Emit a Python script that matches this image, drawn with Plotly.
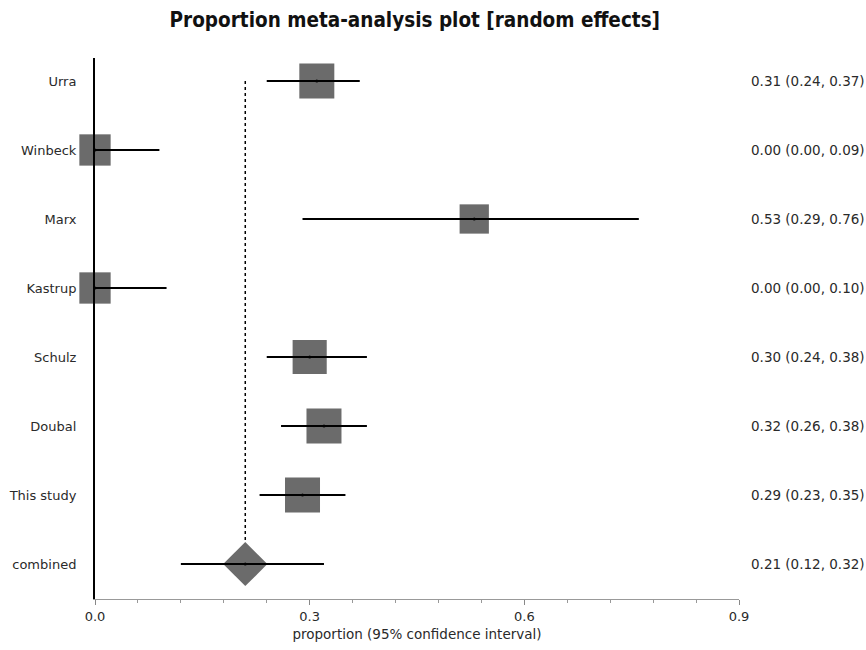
import plotly.graph_objects as go

# ---- data ----
studies = ["Urra", "Winbeck", "Marx", "Kastrup", "Schulz", "Doubal", "This study", "combined"]
estimate = [0.31, 0.00, 0.53, 0.00, 0.30, 0.32, 0.29, 0.21]
ci_low = [0.24, 0.00, 0.29, 0.00, 0.24, 0.26, 0.23, 0.12]
ci_high = [0.37, 0.09, 0.76, 0.10, 0.38, 0.38, 0.35, 0.32]
# relative study weights (box area)
weights = [1.00, 0.80, 0.70, 0.80, 0.95, 1.00, 1.00]
x_ticks = [0.0, 0.3, 0.6, 0.9]
x_ticktext = ["0.0", "0.3", "0.6", "0.9"]

# ---- layout helpers ----
n = len(studies)
ypos = [n - 1 - i for i in range(n)]  # first study at top
GRAY = "#6b6b6b"
FONT = "DejaVu Sans, Open Sans, sans-serif"
TFONT = "DejaVu Sans Condensed, Liberation Sans Narrow, Open Sans, sans-serif"
TXT = "#2a2a2a"

study_idx = list(range(n - 1))
box_sizes = [35 * (w ** 0.5) for w in weights]

fig = go.Figure()

# dashed vertical line at combined estimate
fig.add_trace(go.Scatter(
    x=[estimate[-1], estimate[-1]], y=[ypos[-1], ypos[0]],
    mode="lines", line=dict(color="black", width=1.5, dash="dot"),
    hoverinfo="skip", showlegend=False, cliponaxis=False))

# study boxes
fig.add_trace(go.Scatter(
    x=[estimate[i] for i in study_idx], y=[ypos[i] for i in study_idx],
    mode="markers",
    marker=dict(symbol="square", size=box_sizes, color=GRAY, opacity=1, line=dict(width=0)),
    showlegend=False, cliponaxis=False))

# combined diamond
fig.add_trace(go.Scatter(
    x=[estimate[-1]], y=[ypos[-1]], mode="markers",
    marker=dict(symbol="diamond", size=34, color=GRAY, opacity=1, line=dict(width=0)),
    showlegend=False, cliponaxis=False))

# confidence interval lines + centre dot
fig.add_trace(go.Scatter(
    x=estimate, y=ypos, mode="markers",
    marker=dict(symbol="circle", size=3, color="black", opacity=1),
    error_x=dict(type="data", symmetric=False,
                 array=[h - e for h, e in zip(ci_high, estimate)],
                 arrayminus=[e - l for e, l in zip(estimate, ci_low)],
                 color="black", thickness=1.8, width=0),
    showlegend=False, cliponaxis=False))

# right-hand labels
for i in range(n):
    fig.add_annotation(
        x=1.0155, xref="paper", y=ypos[i], yref="y",
        text=f"{estimate[i]:.2f} ({ci_low[i]:.2f}, {ci_high[i]:.2f})",
        showarrow=False, xanchor="left", yanchor="middle",
        font=dict(family=FONT, size=13.5, color=TXT))

fig.update_layout(
    width=866, height=650,
    margin=dict(l=95, r=127, t=58, b=51, autoexpand=False),
    paper_bgcolor="white", plot_bgcolor="white",
    title=dict(text="<b>Proportion meta-analysis plot [random effects]</b>",
               x=0.479, xanchor="center", y=0.969, yanchor="middle",
               font=dict(family=TFONT, size=20.5, color="#111111")),
    font=dict(family=FONT, size=12, color=TXT),
)

fig.update_xaxes(
    range=[0, 0.9], tickvals=x_ticks, ticktext=x_ticktext,
    showgrid=False, zeroline=False, automargin=False,
    showline=True, linecolor="#999999", linewidth=1,
    ticks="outside", ticklen=5, tickcolor="#888888", tickwidth=1,
    minor=dict(dtick=0.06, tick0=0, ticks="outside", ticklen=3, tickcolor="#999999", showgrid=False),
    tickfont=dict(family=FONT, size=13, color=TXT),
    title=dict(text="proportion (95% confidence interval)", standoff=6,
               font=dict(family=FONT, size=13.5, color=TXT)),
)

fig.update_yaxes(
    range=[-0.507, 7.333], tickvals=ypos, ticktext=studies,
    showgrid=False, zeroline=False, automargin=False,
    showline=True, linecolor="black", linewidth=2,
    ticks="", ticklabelstandoff=14,
    tickfont=dict(family=FONT, size=13, color=TXT),
)

fig.write_html("out.html", config={"displayModeBar": False},
               post_script="document.body.style.margin='0px';")
